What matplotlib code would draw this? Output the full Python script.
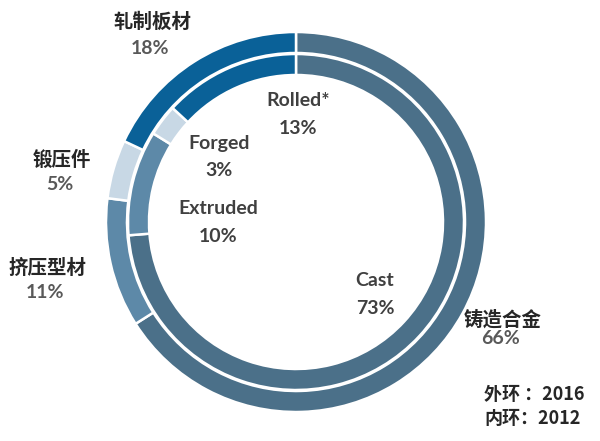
import matplotlib.pyplot as plt

plt.rcParams['font.family'] = ['Lato', 'Noto Sans CJK SC', 'DejaVu Sans']

# outer ring = 2016, inner ring = 2012 (clockwise from 12 o'clock)
outer_names = ["铸造合金", "挤压型材", "锻压件", "轧制板材"]
outer_vals = [66, 11, 5, 18]
inner_names = ["Cast", "Extruded", "Forged", "Rolled*"]
inner_vals = [73, 10, 3, 13]
colors = ["#4b7089", "#5d89a8", "#c8d8e5", "#0a6198"]

fig = plt.figure(figsize=(6, 4.41), dpi=100)
ax = fig.add_axes([0, 0, 1, 1])

cx, cy = 296, 441 - 222
wp = dict(edgecolor="white", linewidth=1.8)
ax.pie(outer_vals, colors=colors, radius=190, center=(cx, cy), startangle=90,
       counterclock=False, wedgeprops=dict(width=21, **wp), frame=True)
ax.pie(inner_vals, colors=colors, radius=168, center=(cx, cy), startangle=90,
       counterclock=False, wedgeprops=dict(width=21, **wp), frame=True)

ax.set_xlim(0, 600)
ax.set_ylim(0, 441)
ax.axis("off")

cjk = ['Noto Sans CJK SC', 'DejaVu Sans']
name_c = "#262626"
pct_c = "#595959"

# label positions in pixels (x, y from top), gap to the percent line
outer_pos = [(503, 320), (47, 268), (62, 160), (152, 22)]
outer_gap = [19, 24, 24, 26]
inner_pos = [(375, 280), (218, 208), (219, 143), (298, 101)]

for n, v, (x, y), g in zip(outer_names, outer_vals, outer_pos, outer_gap):
    ax.text(x, 441 - y, n, ha="center", va="center", fontsize=14,
            fontweight="bold", color=name_c, family=cjk)
    ax.text(x - 2, 441 - y - g, f"{v}%", ha="center", va="center", fontsize=14,
            fontweight="bold", color=pct_c)

for n, v, (x, y) in zip(inner_names, inner_vals, inner_pos):
    ax.text(x, 441 - y, n, ha="center", va="center", fontsize=14,
            fontweight="bold", color="#404040")
    ax.text(x, 441 - y - 28, f"{v}%", ha="center", va="center", fontsize=14,
            fontweight="bold", color="#404040")

ax.text(484, 441 - 395, "外环 ：2016", ha="left", va="center", fontsize=13,
        fontweight="bold", color=name_c, family=cjk)
ax.text(484, 441 - 418, "内环：2012", ha="left", va="center", fontsize=13,
        fontweight="bold", color=name_c, family=cjk)

fig.savefig("out.png", dpi=100)
